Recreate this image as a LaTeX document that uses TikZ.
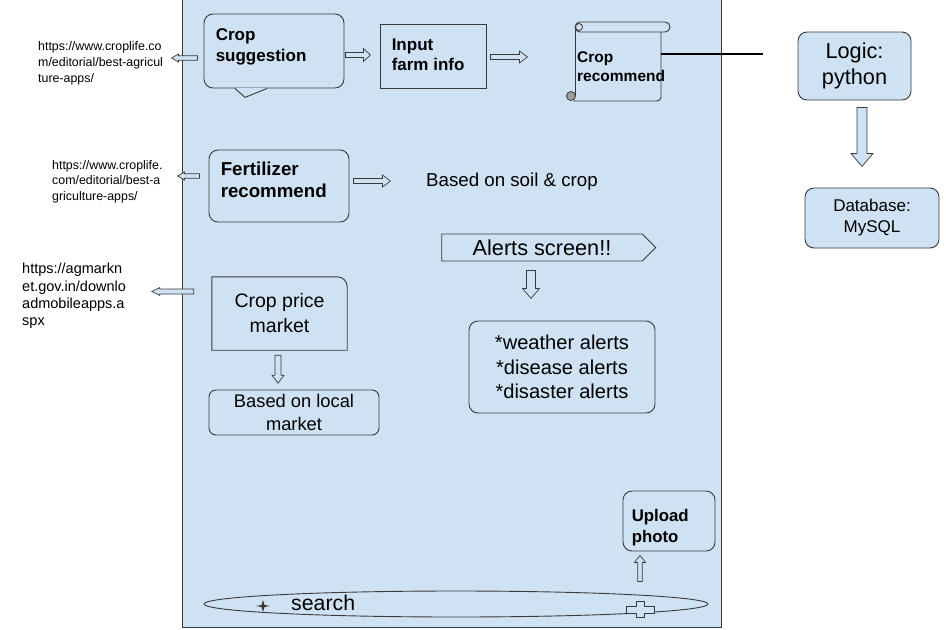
\documentclass[tikz,border=0pt]{standalone}
\usepackage{fontspec}
\setmainfont{Liberation Sans}
\usetikzlibrary{shapes.geometric,shapes.symbols}
\definecolor{panelblue}{HTML}{CFE2F3}
\definecolor{edgegray}{HTML}{3A3A3A}
\tikzset{
  box/.style={draw=edgegray, line width=0.9pt, fill=panelblue, inner sep=0pt},
  rbox/.style={box, rounded corners=9pt},
  f/.style 2 args={font=\fontsize{#1}{#2}\selectfont, inner sep=0pt},
  fb/.style 2 args={font=\fontsize{#1}{#2}\selectfont\bfseries, inner sep=0pt, align=left},
  % hollow block arrow: length / shaft half / head half / head length
  pics/harr/.style n args={4}{code={
    \draw[edgegray, line width=0.7pt, fill=panelblue]
      (0,-#2) -- (#1-#4,-#2) -- (#1-#4,-#3) -- (#1,0) -- (#1-#4,#3) -- (#1-#4,#2) -- (0,#2) -- cycle;}}
}
\begin{document}
\begin{tikzpicture}[x=1pt,y=-1pt]
\fill[white] (0,0) rectangle (952,629);
\useasboundingbox (0,0) rectangle (952,629);

% phone panel
\draw[edgegray, line width=1pt, fill=panelblue] (182,-3) rectangle (721,627);

% crop suggestion (callout)
\node[rbox, minimum width=140, minimum height=74] (sugg) at (274,51) {};
\fill[panelblue] ([xshift=-38pt]sugg.south) rectangle ([xshift=-8pt,yshift=-2pt]sugg.south);
\draw[edgegray, line width=0.9pt] ([xshift=-39pt]sugg.south) -- ++(10,9) -- ++(22,-9);
\node[fb={17}{21}, anchor=west] (sugg-t) at ([xshift=12pt,yshift=4.5pt]sugg.west) {Crop\\suggestion};

\node[box, minimum width=106, minimum height=64] (inp) at (433,56) {};
\node[fb={17}{20}, anchor=west] (inp-t) at ([xshift=12pt,yshift=1pt]inp.west) {Input\\farm info};

% crop recommend (scroll)
\node[minimum width=86, minimum height=74, inner sep=0pt] (rec) at (618,64) {};
\draw[edgegray, line width=0.9pt, fill=panelblue, rounded corners=5pt] (575,22) rectangle (670,32);
\draw[edgegray, line width=0.9pt] (575,27) -- (575,96);
\draw[edgegray, line width=0.9pt, rounded corners=4pt] (661,32) -- (661,101) -- (573,101);
\draw[edgegray, line width=0.8pt, fill=panelblue] (579,27) circle (3.5);
\draw[edgegray, line width=0.8pt, fill=gray!75] (571,96) circle (4.5);
\node[fb={15.5}{19}, anchor=west] (rec-t) at (577,66.5) {Crop\\recommend};
\coordinate (logic-in) at (763,54);
\draw[black, line width=1.6pt] ([yshift=10pt]rec.east) -- (logic-in);

\pic at ([xshift=1pt,yshift=-4pt]sugg.east) {harr={25}{2.5}{6.5}{7}};
\pic at ([xshift=4pt,yshift=-1pt]inp.east) {harr={37}{2.5}{6}{8}};
\pic[rotate=180] at ([xshift=-6pt,yshift=-7pt]sugg.west) {harr={26}{2.2}{4}{7}};

% fertilizer
\node[rbox, minimum width=140, minimum height=72] (fert) at (279,186) {};
\node[fb={18.7}{22}, anchor=west] (fert-t) at ([xshift=12pt,yshift=6pt]fert.west) {Fertilizer\\recommend};
\pic at ([xshift=4pt,yshift=5pt]fert.east) {harr={37}{2.5}{6}{8}};
\pic[rotate=180] at ([xshift=-9pt,yshift=10pt]fert.west) {harr={22}{2.2}{4}{7}};
\node[f={18.7}{22}, anchor=west] (soil) at (426,182) {Based on soil \& crop};

% alerts
\node[box, line width=0.8pt, shape=signal, signal to=east, minimum width=214, minimum height=27,
  f={21.7}{26}] (alrt) at (542,247.5) {Alerts screen!!};
\pic[rotate=-90] at ([xshift=-11pt,yshift=-9pt]alrt.south) {harr={28}{4.5}{8.5}{10}};
\node[rbox, minimum width=186, minimum height=92, f={20.1}{24.5}, align=center] (alist) at (562,367)
  {*weather alerts\\*disease alerts\\*disaster alerts};

% crop price market
\node[minimum width=135, minimum height=73, inner sep=0pt, f={19.5}{25}, align=center] (price) at (279.5,313.5) {Crop price\\market};
\draw[edgegray, line width=0.9pt] (price.south west) -- (price.north west) -- ([xshift=-10pt]price.north east)
  arc(-90:0:10) -- (price.south east) -- cycle;
\pic[rotate=180] at ([xshift=-18pt,yshift=22pt]price.west) {harr={42}{2.5}{4}{8}};
\pic[rotate=-90] at ([xshift=-1.5pt,yshift=-5pt]price.south) {harr={28}{3}{6}{8}};
\node[rbox, rounded corners=7pt, minimum width=170, minimum height=45, f={18.3}{23}, align=center] (local) at (294,412.5) {Based on local\\market};

% upload photo
\node[rbox, minimum width=92, minimum height=60] (upl) at (669,521) {};
\node[fb={16.8}{21}, anchor=west] (upl-t) at ([xshift=9pt,yshift=-6.5pt]upl.west) {Upload\\photo};

% search bar
\node[box, ellipse, minimum width=504, minimum height=26] (srch) at (456,604) {};
\node[f={21.3}{25}, anchor=west] (srch-t) at (291,603) {search};
\fill[edgegray] (256,606) -- (261.5,605) -- (263,600) -- (264.5,605) -- (270,606) -- (264.5,607) -- (263,612) -- (261.5,607) -- cycle;
\draw[edgegray, line width=0.8pt, fill=panelblue] (626,606) -- (636,606) -- (636,601) -- (644,601) -- (644,606) -- (654,606)
  -- (654,613) -- (644,613) -- (644,617) -- (636,617) -- (636,613) -- (626,613) -- cycle;
\pic[rotate=90] at ([xshift=-29pt,yshift=-30pt]upl.south) {harr={26}{2.3}{5.5}{7}};

% url notes
\node[f={12.4}{16}, align=left, anchor=west] (url1) at (38,63)
  {https://www.croplife.co\\m/editorial/best-agricul\\ture-apps/};
\node[f={12.4}{15.5}, align=left, anchor=west] (url2) at (52,181.5)
  {https://www.croplife.\\com/editorial/best-a\\griculture-apps/};
\node[f={14.5}{17.4}, align=left, anchor=west] (url3) at (22,296)
  {https://agmarkn\\et.gov.in/downlo\\admobileapps.a\\spx};

% backend
\node[rbox, minimum width=113, minimum height=68, f={21.7}{26}, align=center] (logic) at (854.5,66) {Logic:\\python};
\node[rbox, minimum width=134, minimum height=60, f={17}{21}, align=center] (db) at (872,218) {Database:\\MySQL};
\pic[rotate=-90] at ([xshift=7.5pt,yshift=-7pt]logic.south) {harr={59}{5}{11}{13}};
\end{tikzpicture}
\end{document}
